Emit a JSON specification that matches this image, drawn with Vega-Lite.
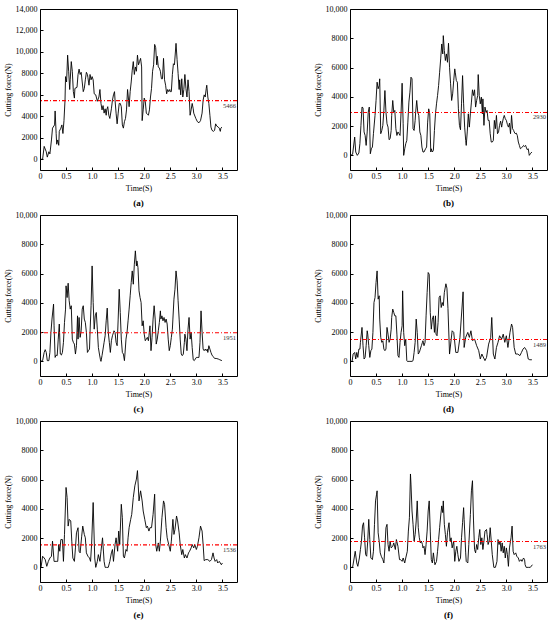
{
"$schema": "https://vega.github.io/schema/vega-lite/v6.json",
"padding": {"left": 3, "top": 4, "right": 0, "bottom": 0},
"background": "white",
"columns": 2,
"spacing": {"row": 1, "column": 74},
"config": {
 "font": "Liberation Serif",
 "view": {"stroke": "#000", "strokeWidth": 1},
 "axis": {"domain": false, "grid": false, "ticks": true, "tickColor": "#000", "tickSize": -3, "labelOverlap": false, "labelFlush": false, "labelFontSize": 8, "labelColor": "#000000", "titleFontSize": 8, "titleFontWeight": "normal", "titleColor": "#000000", "labelFont": "Liberation Serif", "titleFont": "Liberation Serif"},
 "axisX": {"titlePadding": 4, "labelPadding": 5},
 "axisY": {"titlePadding": 3, "labelPadding": 6},
 "title": {"orient": "bottom", "fontSize": 9, "fontWeight": "bold", "font": "Liberation Serif", "offset": 7, "color": "#000"},
 "line": {"color": "#000", "strokeWidth": 0.9}
},
"datasets": {
"means": [{"p":"a","m":5466},{"p":"b","m":2930},{"p":"c","m":1951},{"p":"d","m":1489},{"p":"e","m":1536},{"p":"f","m":1763}],
"a": [{"t":0.01,"f":0},{"t":0.05,"f":0},{"t":0.08,"f":1200},{"t":0.12,"f":700},{"t":0.14,"f":200},{"t":0.17,"f":700},{"t":0.19,"f":500},{"t":0.22,"f":1800},{"t":0.24,"f":2900},{"t":0.28,"f":3200},{"t":0.29,"f":4500},{"t":0.31,"f":2400},{"t":0.32,"f":1400},{"t":0.34,"f":1800},{"t":0.36,"f":1300},{"t":0.37,"f":2600},{"t":0.40,"f":2900},{"t":0.42,"f":3200},{"t":0.44,"f":2400},{"t":0.46,"f":3600},{"t":0.48,"f":5500},{"t":0.49,"f":7700},{"t":0.51,"f":7200},{"t":0.53,"f":9700},{"t":0.55,"f":8200},{"t":0.57,"f":6500},{"t":0.58,"f":7400},{"t":0.60,"f":9100},{"t":0.62,"f":8200},{"t":0.64,"f":6300},{"t":0.66,"f":5700},{"t":0.67,"f":6600},{"t":0.71,"f":6700},{"t":0.73,"f":7900},{"t":0.75,"f":8400},{"t":0.77,"f":7900},{"t":0.79,"f":8100},{"t":0.81,"f":7200},{"t":0.83,"f":6300},{"t":0.85,"f":6600},{"t":0.87,"f":7400},{"t":0.89,"f":8100},{"t":0.91,"f":7900},{"t":0.92,"f":7600},{"t":0.94,"f":6900},{"t":0.96,"f":7900},{"t":0.98,"f":7400},{"t":1.00,"f":7700},{"t":1.02,"f":7400},{"t":1.04,"f":6100},{"t":1.07,"f":6000},{"t":1.09,"f":5600},{"t":1.10,"f":5400},{"t":1.13,"f":5800},{"t":1.15,"f":6500},{"t":1.17,"f":5200},{"t":1.19,"f":4600},{"t":1.21,"f":5000},{"t":1.23,"f":4300},{"t":1.25,"f":4700},{"t":1.27,"f":4100},{"t":1.28,"f":4600},{"t":1.30,"f":4900},{"t":1.32,"f":4100},{"t":1.34,"f":3800},{"t":1.37,"f":4700},{"t":1.39,"f":5500},{"t":1.41,"f":6000},{"t":1.43,"f":6300},{"t":1.44,"f":5500},{"t":1.46,"f":4300},{"t":1.48,"f":3300},{"t":1.50,"f":4300},{"t":1.52,"f":5200},{"t":1.54,"f":5200},{"t":1.56,"f":4900},{"t":1.58,"f":3200},{"t":1.60,"f":2900},{"t":1.62,"f":3500},{"t":1.64,"f":3800},{"t":1.66,"f":4600},{"t":1.68,"f":6500},{"t":1.70,"f":5500},{"t":1.71,"f":4900},{"t":1.73,"f":6300},{"t":1.75,"f":7200},{"t":1.77,"f":8300},{"t":1.79,"f":9100},{"t":1.81,"f":7900},{"t":1.83,"f":8600},{"t":1.85,"f":8200},{"t":1.87,"f":9700},{"t":1.89,"f":8800},{"t":1.91,"f":9100},{"t":1.93,"f":9400},{"t":1.95,"f":8600},{"t":1.96,"f":3600},{"t":1.98,"f":4600},{"t":2.00,"f":5700},{"t":2.02,"f":5400},{"t":2.04,"f":4300},{"t":2.06,"f":4200},{"t":2.08,"f":4100},{"t":2.10,"f":4600},{"t":2.12,"f":5800},{"t":2.14,"f":6600},{"t":2.16,"f":8200},{"t":2.18,"f":8800},{"t":2.20,"f":10700},{"t":2.22,"f":10400},{"t":2.24,"f":8800},{"t":2.25,"f":9600},{"t":2.27,"f":8600},{"t":2.29,"f":8500},{"t":2.31,"f":8200},{"t":2.33,"f":7500},{"t":2.35,"f":7500},{"t":2.37,"f":9400},{"t":2.39,"f":7400},{"t":2.41,"f":6900},{"t":2.43,"f":6100},{"t":2.45,"f":6500},{"t":2.47,"f":6300},{"t":2.49,"f":6500},{"t":2.50,"f":6300},{"t":2.52,"f":6300},{"t":2.54,"f":7900},{"t":2.56,"f":8900},{"t":2.58,"f":8800},{"t":2.61,"f":10800},{"t":2.63,"f":9300},{"t":2.65,"f":8000},{"t":2.67,"f":6500},{"t":2.68,"f":7400},{"t":2.70,"f":6000},{"t":2.72,"f":7500},{"t":2.74,"f":5800},{"t":2.76,"f":6500},{"t":2.78,"f":7900},{"t":2.80,"f":6600},{"t":2.82,"f":5800},{"t":2.84,"f":7400},{"t":2.86,"f":6300},{"t":2.88,"f":4100},{"t":2.90,"f":4600},{"t":2.92,"f":5200},{"t":2.94,"f":4700},{"t":2.95,"f":4300},{"t":2.99,"f":3800},{"t":3.02,"f":3500},{"t":3.05,"f":3400},{"t":3.08,"f":3600},{"t":3.11,"f":4300},{"t":3.13,"f":5500},{"t":3.15,"f":6000},{"t":3.17,"f":5800},{"t":3.19,"f":6600},{"t":3.20,"f":6900},{"t":3.22,"f":5800},{"t":3.24,"f":5200},{"t":3.26,"f":4100},{"t":3.28,"f":3000},{"t":3.30,"f":2700},{"t":3.33,"f":2600},{"t":3.35,"f":2700},{"t":3.37,"f":3300},{"t":3.39,"f":3100},{"t":3.42,"f":3000},{"t":3.44,"f":2900},{"t":3.46,"f":2600},{"t":3.47,"f":2900},{"t":3.49,"f":3000}],
"b": [{"t":0.01,"f":0},{"t":0.05,"f":70},{"t":0.09,"f":1250},{"t":0.11,"f":230},{"t":0.14,"f":0},{"t":0.17,"f":160},{"t":0.19,"f":800},{"t":0.21,"f":2050},{"t":0.23,"f":3300},{"t":0.25,"f":3250},{"t":0.27,"f":1600},{"t":0.29,"f":1360},{"t":0.31,"f":680},{"t":0.33,"f":1600},{"t":0.35,"f":2950},{"t":0.37,"f":3300},{"t":0.39,"f":110},{"t":0.41,"f":450},{"t":0.43,"f":570},{"t":0.45,"f":1480},{"t":0.48,"f":2730},{"t":0.50,"f":3750},{"t":0.52,"f":5000},{"t":0.54,"f":4550},{"t":0.56,"f":4770},{"t":0.57,"f":5230},{"t":0.59,"f":1480},{"t":0.61,"f":1700},{"t":0.63,"f":2050},{"t":0.65,"f":3070},{"t":0.67,"f":4430},{"t":0.69,"f":2950},{"t":0.71,"f":2160},{"t":0.73,"f":1930},{"t":0.75,"f":1070},{"t":0.77,"f":1140},{"t":0.79,"f":1700},{"t":0.80,"f":2730},{"t":0.82,"f":3750},{"t":0.84,"f":2950},{"t":0.86,"f":3070},{"t":0.88,"f":1820},{"t":0.90,"f":1360},{"t":0.92,"f":1600},{"t":0.94,"f":1480},{"t":0.96,"f":1360},{"t":0.98,"f":2950},{"t":1.00,"f":4930},{"t":1.02,"f":2160},{"t":1.03,"f":0},{"t":1.05,"f":450},{"t":1.07,"f":800},{"t":1.09,"f":1020},{"t":1.11,"f":2270},{"t":1.13,"f":3640},{"t":1.15,"f":4320},{"t":1.17,"f":5340},{"t":1.19,"f":5230},{"t":1.21,"f":1820},{"t":1.23,"f":1700},{"t":1.25,"f":2390},{"t":1.26,"f":2950},{"t":1.28,"f":3750},{"t":1.30,"f":2950},{"t":1.32,"f":2730},{"t":1.34,"f":1600},{"t":1.36,"f":1360},{"t":1.38,"f":570},{"t":1.40,"f":230},{"t":1.42,"f":230},{"t":1.45,"f":450},{"t":1.47,"f":570},{"t":1.49,"f":2270},{"t":1.51,"f":3180},{"t":1.53,"f":2840},{"t":1.55,"f":230},{"t":1.56,"f":450},{"t":1.58,"f":230},{"t":1.60,"f":340},{"t":1.62,"f":1700},{"t":1.64,"f":2840},{"t":1.66,"f":3520},{"t":1.68,"f":4090},{"t":1.70,"f":4770},{"t":1.72,"f":5680},{"t":1.74,"f":6590},{"t":1.76,"f":7610},{"t":1.78,"f":6930},{"t":1.79,"f":8180},{"t":1.81,"f":7160},{"t":1.83,"f":6480},{"t":1.85,"f":6930},{"t":1.87,"f":6360},{"t":1.89,"f":7660},{"t":1.91,"f":6020},{"t":1.93,"f":4890},{"t":1.95,"f":3750},{"t":1.97,"f":4200},{"t":1.99,"f":5110},{"t":2.01,"f":5910},{"t":2.02,"f":5680},{"t":2.04,"f":5110},{"t":2.06,"f":5000},{"t":2.08,"f":3180},{"t":2.10,"f":2050},{"t":2.12,"f":1750},{"t":2.14,"f":3520},{"t":2.16,"f":5450},{"t":2.18,"f":3520},{"t":2.20,"f":1930},{"t":2.22,"f":1020},{"t":2.23,"f":680},{"t":2.25,"f":1600},{"t":2.27,"f":2840},{"t":2.29,"f":1930},{"t":2.31,"f":2840},{"t":2.33,"f":3640},{"t":2.35,"f":4480},{"t":2.37,"f":4090},{"t":2.39,"f":4480},{"t":2.41,"f":3300},{"t":2.43,"f":3750},{"t":2.45,"f":4090},{"t":2.46,"f":5520},{"t":2.48,"f":4090},{"t":2.50,"f":3520},{"t":2.52,"f":3980},{"t":2.54,"f":2840},{"t":2.55,"f":3860},{"t":2.57,"f":2050},{"t":2.59,"f":3300},{"t":2.61,"f":2950},{"t":2.63,"f":3070},{"t":2.65,"f":2390},{"t":2.67,"f":2390},{"t":2.69,"f":1480},{"t":2.71,"f":910},{"t":2.73,"f":910},{"t":2.75,"f":1020},{"t":2.77,"f":2390},{"t":2.79,"f":1820},{"t":2.81,"f":2730},{"t":2.83,"f":1480},{"t":2.85,"f":1600},{"t":2.87,"f":2050},{"t":2.89,"f":2340},{"t":2.91,"f":1930},{"t":2.92,"f":2160},{"t":2.94,"f":2500},{"t":2.96,"f":2730},{"t":2.98,"f":2500},{"t":3.00,"f":2390},{"t":3.02,"f":2110},{"t":3.04,"f":1930},{"t":3.06,"f":2200},{"t":3.08,"f":1480},{"t":3.10,"f":2730},{"t":3.12,"f":1820},{"t":3.14,"f":1700},{"t":3.15,"f":1600},{"t":3.17,"f":1480},{"t":3.19,"f":1520},{"t":3.21,"f":1360},{"t":3.23,"f":910},{"t":3.25,"f":680},{"t":3.27,"f":450},{"t":3.29,"f":520},{"t":3.31,"f":570},{"t":3.33,"f":680},{"t":3.35,"f":610},{"t":3.37,"f":680},{"t":3.38,"f":570},{"t":3.40,"f":390},{"t":3.42,"f":450},{"t":3.44,"f":0},{"t":3.46,"f":110},{"t":3.49,"f":230}],
"c": [{"t":0.01,"f":0},{"t":0.05,"f":50},{"t":0.08,"f":610},{"t":0.10,"f":800},{"t":0.12,"f":610},{"t":0.14,"f":50},{"t":0.17,"f":50},{"t":0.19,"f":610},{"t":0.21,"f":1980},{"t":0.23,"f":2890},{"t":0.26,"f":3910},{"t":0.27,"f":2430},{"t":0.29,"f":270},{"t":0.31,"f":430},{"t":0.33,"f":390},{"t":0.35,"f":1520},{"t":0.37,"f":2550},{"t":0.39,"f":500},{"t":0.41,"f":430},{"t":0.43,"f":610},{"t":0.45,"f":1300},{"t":0.47,"f":2660},{"t":0.49,"f":3570},{"t":0.50,"f":5160},{"t":0.52,"f":4360},{"t":0.54,"f":5340},{"t":0.56,"f":4140},{"t":0.58,"f":3570},{"t":0.60,"f":3800},{"t":0.62,"f":1520},{"t":0.64,"f":1300},{"t":0.66,"f":1180},{"t":0.68,"f":500},{"t":0.70,"f":1070},{"t":0.72,"f":3110},{"t":0.73,"f":1520},{"t":0.75,"f":3000},{"t":0.77,"f":1640},{"t":0.79,"f":2090},{"t":0.81,"f":3570},{"t":0.83,"f":3800},{"t":0.85,"f":2890},{"t":0.87,"f":2660},{"t":0.89,"f":1980},{"t":0.91,"f":610},{"t":0.93,"f":730},{"t":0.95,"f":840},{"t":0.96,"f":1980},{"t":0.98,"f":3800},{"t":1.00,"f":6520},{"t":1.02,"f":4020},{"t":1.04,"f":2200},{"t":1.06,"f":3110},{"t":1.08,"f":3340},{"t":1.10,"f":2200},{"t":1.12,"f":950},{"t":1.14,"f":500},{"t":1.16,"f":110},{"t":1.17,"f":0},{"t":1.19,"f":390},{"t":1.21,"f":840},{"t":1.23,"f":1300},{"t":1.25,"f":1750},{"t":1.27,"f":2770},{"t":1.29,"f":3640},{"t":1.31,"f":1980},{"t":1.33,"f":1300},{"t":1.35,"f":610},{"t":1.37,"f":1410},{"t":1.39,"f":1750},{"t":1.40,"f":1860},{"t":1.42,"f":2090},{"t":1.44,"f":1980},{"t":1.46,"f":1300},{"t":1.48,"f":1070},{"t":1.50,"f":2890},{"t":1.52,"f":4930},{"t":1.54,"f":3340},{"t":1.56,"f":1520},{"t":1.58,"f":610},{"t":1.60,"f":500},{"t":1.62,"f":50},{"t":1.63,"f":500},{"t":1.65,"f":1520},{"t":1.67,"f":1980},{"t":1.69,"f":2770},{"t":1.71,"f":3570},{"t":1.73,"f":4480},{"t":1.75,"f":5390},{"t":1.77,"f":6180},{"t":1.79,"f":5270},{"t":1.81,"f":6640},{"t":1.83,"f":7550},{"t":1.85,"f":6520},{"t":1.86,"f":6860},{"t":1.88,"f":6410},{"t":1.90,"f":4820},{"t":1.92,"f":4360},{"t":1.94,"f":4020},{"t":1.96,"f":2430},{"t":1.98,"f":2770},{"t":2.00,"f":1860},{"t":2.02,"f":1410},{"t":2.04,"f":1520},{"t":2.06,"f":1640},{"t":2.08,"f":1410},{"t":2.09,"f":1750},{"t":2.11,"f":2430},{"t":2.13,"f":730},{"t":2.15,"f":1640},{"t":2.17,"f":2890},{"t":2.19,"f":3800},{"t":2.21,"f":2890},{"t":2.23,"f":1180},{"t":2.25,"f":1520},{"t":2.27,"f":2090},{"t":2.29,"f":2660},{"t":2.31,"f":3450},{"t":2.32,"f":2890},{"t":2.34,"f":3110},{"t":2.36,"f":2770},{"t":2.38,"f":3000},{"t":2.40,"f":2660},{"t":2.42,"f":2890},{"t":2.44,"f":2550},{"t":2.46,"f":1520},{"t":2.48,"f":730},{"t":2.50,"f":1070},{"t":2.52,"f":1640},{"t":2.54,"f":2200},{"t":2.55,"f":2890},{"t":2.57,"f":4250},{"t":2.59,"f":4930},{"t":2.61,"f":6180},{"t":2.63,"f":5500},{"t":2.65,"f":4140},{"t":2.67,"f":2890},{"t":2.69,"f":1520},{"t":2.71,"f":500},{"t":2.73,"f":390},{"t":2.75,"f":500},{"t":2.77,"f":1300},{"t":2.78,"f":1860},{"t":2.80,"f":1520},{"t":2.82,"f":730},{"t":2.84,"f":2200},{"t":2.86,"f":3000},{"t":2.88,"f":1520},{"t":2.90,"f":1980},{"t":2.92,"f":950},{"t":2.94,"f":110},{"t":2.96,"f":50},{"t":2.98,"f":160},{"t":3.00,"f":270},{"t":3.03,"f":270},{"t":3.05,"f":270},{"t":3.07,"f":1300},{"t":3.09,"f":3450},{"t":3.11,"f":1980},{"t":3.13,"f":840},{"t":3.15,"f":730},{"t":3.17,"f":840},{"t":3.19,"f":730},{"t":3.21,"f":840},{"t":3.22,"f":610},{"t":3.24,"f":1070},{"t":3.26,"f":840},{"t":3.28,"f":610},{"t":3.30,"f":430},{"t":3.32,"f":340},{"t":3.35,"f":200},{"t":3.38,"f":200},{"t":3.42,"f":160},{"t":3.45,"f":110},{"t":3.49,"f":50}],
"d": [{"t":0.01,"f":0},{"t":0.04,"f":0},{"t":0.06,"f":500},{"t":0.09,"f":610},{"t":0.11,"f":160},{"t":0.13,"f":610},{"t":0.15,"f":270},{"t":0.17,"f":840},{"t":0.19,"f":840},{"t":0.20,"f":1300},{"t":0.23,"f":2320},{"t":0.25,"f":1070},{"t":0.27,"f":160},{"t":0.29,"f":270},{"t":0.31,"f":1070},{"t":0.33,"f":2090},{"t":0.34,"f":1860},{"t":0.36,"f":1070},{"t":0.38,"f":270},{"t":0.40,"f":730},{"t":0.42,"f":840},{"t":0.44,"f":1980},{"t":0.46,"f":4020},{"t":0.48,"f":4360},{"t":0.50,"f":5390},{"t":0.52,"f":6180},{"t":0.54,"f":4250},{"t":0.56,"f":4480},{"t":0.57,"f":2890},{"t":0.59,"f":1640},{"t":0.61,"f":1300},{"t":0.63,"f":1410},{"t":0.65,"f":840},{"t":0.67,"f":730},{"t":0.69,"f":840},{"t":0.71,"f":2320},{"t":0.73,"f":1860},{"t":0.75,"f":1300},{"t":0.77,"f":1520},{"t":0.79,"f":2200},{"t":0.80,"f":3000},{"t":0.82,"f":3570},{"t":0.84,"f":3340},{"t":0.86,"f":3110},{"t":0.88,"f":3110},{"t":0.90,"f":1860},{"t":0.92,"f":390},{"t":0.94,"f":270},{"t":0.96,"f":1300},{"t":0.98,"f":1980},{"t":1.00,"f":2430},{"t":1.01,"f":4820},{"t":1.03,"f":1980},{"t":1.05,"f":1070},{"t":1.07,"f":1520},{"t":1.09,"f":50},{"t":1.10,"f":0},{"t":1.15,"f":0},{"t":1.19,"f":0},{"t":1.21,"f":50},{"t":1.23,"f":610},{"t":1.25,"f":1300},{"t":1.27,"f":2890},{"t":1.29,"f":1980},{"t":1.31,"f":500},{"t":1.33,"f":610},{"t":1.35,"f":840},{"t":1.37,"f":1070},{"t":1.39,"f":1300},{"t":1.40,"f":1410},{"t":1.42,"f":1070},{"t":1.44,"f":1300},{"t":1.46,"f":3110},{"t":1.48,"f":4700},{"t":1.50,"f":6070},{"t":1.52,"f":5950},{"t":1.54,"f":3340},{"t":1.56,"f":2200},{"t":1.58,"f":2890},{"t":1.60,"f":3110},{"t":1.62,"f":1980},{"t":1.64,"f":3110},{"t":1.65,"f":1860},{"t":1.67,"f":1750},{"t":1.69,"f":2660},{"t":1.71,"f":4360},{"t":1.73,"f":4480},{"t":1.75,"f":3680},{"t":1.77,"f":4020},{"t":1.79,"f":3800},{"t":1.81,"f":4700},{"t":1.84,"f":5300},{"t":1.86,"f":5000},{"t":1.88,"f":3600},{"t":1.91,"f":500},{"t":1.96,"f":2090},{"t":1.99,"f":1980},{"t":2.03,"f":610},{"t":2.07,"f":610},{"t":2.11,"f":1640},{"t":2.17,"f":4750},{"t":2.19,"f":950},{"t":2.22,"f":1640},{"t":2.26,"f":1980},{"t":2.29,"f":1640},{"t":2.32,"f":2090},{"t":2.35,"f":1420},{"t":2.39,"f":1520},{"t":2.43,"f":1070},{"t":2.47,"f":730},{"t":2.50,"f":160},{"t":2.53,"f":500},{"t":2.59,"f":50},{"t":2.62,"f":270},{"t":2.66,"f":1180},{"t":2.70,"f":1640},{"t":2.72,"f":3000},{"t":2.75,"f":500},{"t":2.78,"f":160},{"t":2.81,"f":950},{"t":2.84,"f":1300},{"t":2.87,"f":1750},{"t":2.91,"f":1520},{"t":2.94,"f":1860},{"t":2.97,"f":1300},{"t":3.00,"f":1750},{"t":3.03,"f":950},{"t":3.07,"f":1980},{"t":3.10,"f":2550},{"t":3.12,"f":2320},{"t":3.15,"f":950},{"t":3.18,"f":500},{"t":3.22,"f":500},{"t":3.26,"f":390},{"t":3.29,"f":610},{"t":3.32,"f":840},{"t":3.35,"f":950},{"t":3.39,"f":730},{"t":3.42,"f":160},{"t":3.45,"f":110},{"t":3.49,"f":110}],
"e": [{"t":0.02,"f":0},{"t":0.05,"f":760},{"t":0.08,"f":640},{"t":0.10,"f":530},{"t":0.13,"f":70},{"t":0.16,"f":410},{"t":0.19,"f":640},{"t":0.22,"f":760},{"t":0.24,"f":1790},{"t":0.27,"f":410},{"t":0.31,"f":410},{"t":0.34,"f":410},{"t":0.36,"f":1560},{"t":0.38,"f":1100},{"t":0.40,"f":1900},{"t":0.43,"f":1900},{"t":0.45,"f":410},{"t":0.47,"f":2250},{"t":0.50,"f":5460},{"t":0.52,"f":4770},{"t":0.54,"f":2820},{"t":0.56,"f":3280},{"t":0.59,"f":3170},{"t":0.61,"f":1790},{"t":0.63,"f":640},{"t":0.66,"f":410},{"t":0.68,"f":1330},{"t":0.70,"f":2360},{"t":0.73,"f":2710},{"t":0.75,"f":1100},{"t":0.77,"f":990},{"t":0.80,"f":2130},{"t":0.82,"f":2820},{"t":0.85,"f":2250},{"t":0.87,"f":2020},{"t":0.89,"f":990},{"t":0.92,"f":760},{"t":0.95,"f":640},{"t":0.97,"f":410},{"t":0.99,"f":1560},{"t":1.02,"f":4430},{"t":1.05,"f":640},{"t":1.07,"f":0},{"t":1.10,"f":410},{"t":1.12,"f":870},{"t":1.15,"f":410},{"t":1.17,"f":1100},{"t":1.20,"f":2020},{"t":1.23,"f":410},{"t":1.25,"f":0},{"t":1.28,"f":0},{"t":1.31,"f":0},{"t":1.34,"f":410},{"t":1.37,"f":990},{"t":1.39,"f":1220},{"t":1.41,"f":410},{"t":1.44,"f":1560},{"t":1.46,"f":2020},{"t":1.49,"f":1100},{"t":1.51,"f":2480},{"t":1.53,"f":1560},{"t":1.56,"f":4310},{"t":1.58,"f":3390},{"t":1.60,"f":760},{"t":1.62,"f":640},{"t":1.65,"f":1220},{"t":1.67,"f":1100},{"t":1.69,"f":2020},{"t":1.71,"f":2710},{"t":1.74,"f":3280},{"t":1.76,"f":3620},{"t":1.79,"f":4770},{"t":1.82,"f":5570},{"t":1.85,"f":6030},{"t":1.87,"f":6610},{"t":1.90,"f":4540},{"t":1.93,"f":5230},{"t":1.96,"f":4540},{"t":1.98,"f":3850},{"t":2.01,"f":3280},{"t":2.04,"f":2710},{"t":2.06,"f":2820},{"t":2.09,"f":2480},{"t":2.11,"f":2710},{"t":2.14,"f":2710},{"t":2.17,"f":3620},{"t":2.20,"f":5000},{"t":2.22,"f":1560},{"t":2.24,"f":1100},{"t":2.27,"f":1670},{"t":2.29,"f":1100},{"t":2.31,"f":1790},{"t":2.34,"f":3390},{"t":2.37,"f":4540},{"t":2.39,"f":4310},{"t":2.42,"f":2710},{"t":2.44,"f":2020},{"t":2.47,"f":1560},{"t":2.50,"f":1100},{"t":2.52,"f":1790},{"t":2.55,"f":3280},{"t":2.57,"f":2250},{"t":2.59,"f":2590},{"t":2.62,"f":3510},{"t":2.64,"f":3170},{"t":2.67,"f":2360},{"t":2.69,"f":1560},{"t":2.72,"f":870},{"t":2.74,"f":1220},{"t":2.77,"f":640},{"t":2.79,"f":870},{"t":2.82,"f":640},{"t":2.85,"f":990},{"t":2.87,"f":1100},{"t":2.90,"f":1330},{"t":2.92,"f":1560},{"t":2.95,"f":1330},{"t":2.97,"f":1560},{"t":3.00,"f":1220},{"t":3.02,"f":1440},{"t":3.05,"f":2020},{"t":3.08,"f":2820},{"t":3.11,"f":2480},{"t":3.13,"f":1560},{"t":3.15,"f":460},{"t":3.18,"f":530},{"t":3.22,"f":530},{"t":3.26,"f":410},{"t":3.29,"f":530},{"t":3.32,"f":990},{"t":3.34,"f":640},{"t":3.36,"f":410},{"t":3.39,"f":530},{"t":3.41,"f":300},{"t":3.44,"f":410},{"t":3.48,"f":180},{"t":3.50,"f":300}],
"f": [{"t":0.01,"f":0},{"t":0.05,"f":0},{"t":0.08,"f":640},{"t":0.10,"f":1100},{"t":0.13,"f":300},{"t":0.15,"f":70},{"t":0.18,"f":640},{"t":0.20,"f":1220},{"t":0.22,"f":1790},{"t":0.24,"f":2820},{"t":0.26,"f":3050},{"t":0.28,"f":2020},{"t":0.30,"f":870},{"t":0.32,"f":760},{"t":0.34,"f":1790},{"t":0.36,"f":3280},{"t":0.38,"f":1900},{"t":0.40,"f":640},{"t":0.43,"f":530},{"t":0.45,"f":1100},{"t":0.47,"f":2940},{"t":0.49,"f":4540},{"t":0.51,"f":5000},{"t":0.52,"f":5230},{"t":0.54,"f":2360},{"t":0.56,"f":1790},{"t":0.58,"f":990},{"t":0.60,"f":760},{"t":0.63,"f":530},{"t":0.65,"f":300},{"t":0.67,"f":1330},{"t":0.69,"f":2710},{"t":0.71,"f":2940},{"t":0.73,"f":1560},{"t":0.75,"f":1100},{"t":0.77,"f":1790},{"t":0.79,"f":1330},{"t":0.82,"f":1440},{"t":0.84,"f":1670},{"t":0.87,"f":1220},{"t":0.89,"f":1900},{"t":0.92,"f":1440},{"t":0.95,"f":530},{"t":0.97,"f":530},{"t":1.00,"f":410},{"t":1.02,"f":640},{"t":1.05,"f":300},{"t":1.07,"f":640},{"t":1.10,"f":1100},{"t":1.12,"f":2480},{"t":1.14,"f":3390},{"t":1.16,"f":6380},{"t":1.17,"f":5690},{"t":1.19,"f":3850},{"t":1.21,"f":2940},{"t":1.23,"f":1790},{"t":1.25,"f":2250},{"t":1.27,"f":3170},{"t":1.29,"f":4540},{"t":1.31,"f":2710},{"t":1.33,"f":2020},{"t":1.35,"f":1670},{"t":1.37,"f":1790},{"t":1.39,"f":1560},{"t":1.40,"f":1330},{"t":1.42,"f":1440},{"t":1.44,"f":870},{"t":1.46,"f":1560},{"t":1.48,"f":2480},{"t":1.50,"f":3850},{"t":1.52,"f":4540},{"t":1.54,"f":2480},{"t":1.56,"f":530},{"t":1.58,"f":300},{"t":1.60,"f":990},{"t":1.62,"f":410},{"t":1.63,"f":180},{"t":1.66,"f":410},{"t":1.68,"f":1100},{"t":1.70,"f":1900},{"t":1.72,"f":2710},{"t":1.74,"f":3510},{"t":1.76,"f":4200},{"t":1.78,"f":3740},{"t":1.79,"f":4540},{"t":1.81,"f":2940},{"t":1.83,"f":2250},{"t":1.85,"f":1440},{"t":1.87,"f":2360},{"t":1.90,"f":3050},{"t":1.92,"f":1790},{"t":1.94,"f":2020},{"t":1.96,"f":1330},{"t":1.99,"f":1790},{"t":2.01,"f":410},{"t":2.03,"f":1100},{"t":2.05,"f":1440},{"t":2.07,"f":870},{"t":2.09,"f":410},{"t":2.12,"f":640},{"t":2.14,"f":2020},{"t":2.16,"f":3050},{"t":2.18,"f":4080},{"t":2.19,"f":3280},{"t":2.22,"f":990},{"t":2.23,"f":410},{"t":2.26,"f":300},{"t":2.28,"f":1560},{"t":2.31,"f":3620},{"t":2.33,"f":5230},{"t":2.35,"f":5920},{"t":2.37,"f":3170},{"t":2.39,"f":1220},{"t":2.41,"f":990},{"t":2.43,"f":1560},{"t":2.45,"f":1220},{"t":2.47,"f":2020},{"t":2.49,"f":2590},{"t":2.51,"f":1560},{"t":2.53,"f":2020},{"t":2.55,"f":1220},{"t":2.57,"f":1790},{"t":2.59,"f":2480},{"t":2.62,"f":2590},{"t":2.63,"f":2250},{"t":2.65,"f":1560},{"t":2.67,"f":1790},{"t":2.69,"f":2710},{"t":2.71,"f":1790},{"t":2.73,"f":870},{"t":2.76,"f":0},{"t":2.79,"f":0},{"t":2.82,"f":410},{"t":2.84,"f":1900},{"t":2.86,"f":1560},{"t":2.88,"f":1790},{"t":2.90,"f":1100},{"t":2.92,"f":1670},{"t":2.94,"f":990},{"t":2.96,"f":1440},{"t":2.98,"f":640},{"t":3.00,"f":1330},{"t":3.02,"f":870},{"t":3.04,"f":70},{"t":3.06,"f":1330},{"t":3.09,"f":2020},{"t":3.11,"f":2820},{"t":3.13,"f":1100},{"t":3.15,"f":870},{"t":3.18,"f":990},{"t":3.20,"f":760},{"t":3.23,"f":640},{"t":3.25,"f":410},{"t":3.28,"f":530},{"t":3.30,"f":410},{"t":3.33,"f":640},{"t":3.35,"f":530},{"t":3.36,"f":180},{"t":3.38,"f":0},{"t":3.42,"f":0},{"t":3.46,"f":0},{"t":3.50,"f":180}]
},
"concat": [
{"width":197,"height":161,"title":{"text":"(a)"},"layer":[
 {"data":{"name":"a"},"mark":{"type":"line"},"encoding":{"x":{"field":"t","type":"quantitative","scale":{"domain":[0,3.78],"nice":false},"axis":{"title":"Time(S)","labelOverlap":false,"tickCount":8,"labelExpr":"datum.value == 0 ? '0' : format(datum.value, '.1f')"}},"y":{"field":"f","type":"quantitative","scale":{"domain":[-1000,14000],"nice":false},"axis":{"title":"Cutting force(N)","labelOverlap":false,"tickCount":8,"labelExpr":"datum.value >= 10000 ? format(datum.value, ',') : format(datum.value, 'd')"}}}},
 {"data":{"name":"means"},"transform":[{"filter":"datum.p == 'a'"}],"mark":{"type":"rule","color":"#ff0000","strokeWidth":1.1,"strokeDash":[4,2,1,2]},"encoding":{"y":{"field":"m","type":"quantitative"}}},
 {"data":{"name":"means"},"transform":[{"filter":"datum.p == 'a'"}],"mark":{"type":"text","align":"right","baseline":"top","dy":2,"dx":-1,"fontSize":6.5,"color":"#333"},"encoding":{"x":{"datum":3.78},"y":{"field":"m","type":"quantitative"},"text":{"field":"m","type":"quantitative","format":"d"}}}
]},
{"width":197,"height":161,"title":{"text":"(b)"},"layer":[
 {"data":{"name":"b"},"mark":{"type":"line"},"encoding":{"x":{"field":"t","type":"quantitative","scale":{"domain":[0,3.78],"nice":false},"axis":{"title":"Time(S)","labelOverlap":false,"tickCount":8,"labelExpr":"datum.value == 0 ? '0' : format(datum.value, '.1f')"}},"y":{"field":"f","type":"quantitative","scale":{"domain":[-1000,10000],"nice":false},"axis":{"title":"Cutting force(N)","labelOverlap":false,"tickCount":6,"labelExpr":"datum.value >= 10000 ? format(datum.value, ',') : format(datum.value, 'd')"}}}},
 {"data":{"name":"means"},"transform":[{"filter":"datum.p == 'b'"}],"mark":{"type":"rule","color":"#ff0000","strokeWidth":1.1,"strokeDash":[4,2,1,2]},"encoding":{"y":{"field":"m","type":"quantitative"}}},
 {"data":{"name":"means"},"transform":[{"filter":"datum.p == 'b'"}],"mark":{"type":"text","align":"right","baseline":"top","dy":2,"dx":-1,"fontSize":6.5,"color":"#333"},"encoding":{"x":{"datum":3.78},"y":{"field":"m","type":"quantitative"},"text":{"field":"m","type":"quantitative","format":"d"}}}
]},
{"width":197,"height":161,"title":{"text":"(c)"},"layer":[
 {"data":{"name":"c"},"mark":{"type":"line"},"encoding":{"x":{"field":"t","type":"quantitative","scale":{"domain":[0,3.78],"nice":false},"axis":{"title":"Time(S)","labelOverlap":false,"tickCount":8,"labelExpr":"datum.value == 0 ? '0' : format(datum.value, '.1f')"}},"y":{"field":"f","type":"quantitative","scale":{"domain":[-1000,10000],"nice":false},"axis":{"title":"Cutting force(N)","labelOverlap":false,"tickCount":6,"labelExpr":"datum.value >= 10000 ? format(datum.value, ',') : format(datum.value, 'd')"}}}},
 {"data":{"name":"means"},"transform":[{"filter":"datum.p == 'c'"}],"mark":{"type":"rule","color":"#ff0000","strokeWidth":1.1,"strokeDash":[4,2,1,2]},"encoding":{"y":{"field":"m","type":"quantitative"}}},
 {"data":{"name":"means"},"transform":[{"filter":"datum.p == 'c'"}],"mark":{"type":"text","align":"right","baseline":"top","dy":2,"dx":-1,"fontSize":6.5,"color":"#333"},"encoding":{"x":{"datum":3.78},"y":{"field":"m","type":"quantitative"},"text":{"field":"m","type":"quantitative","format":"d"}}}
]},
{"width":197,"height":161,"title":{"text":"(d)"},"layer":[
 {"data":{"name":"d"},"mark":{"type":"line"},"encoding":{"x":{"field":"t","type":"quantitative","scale":{"domain":[0,3.78],"nice":false},"axis":{"title":"Time(S)","labelOverlap":false,"tickCount":8,"labelExpr":"datum.value == 0 ? '0' : format(datum.value, '.1f')"}},"y":{"field":"f","type":"quantitative","scale":{"domain":[-1000,10000],"nice":false},"axis":{"title":"Cutting force(N)","labelOverlap":false,"tickCount":6,"labelExpr":"datum.value >= 10000 ? format(datum.value, ',') : format(datum.value, 'd')"}}}},
 {"data":{"name":"means"},"transform":[{"filter":"datum.p == 'd'"}],"mark":{"type":"rule","color":"#ff0000","strokeWidth":1.1,"strokeDash":[4,2,1,2]},"encoding":{"y":{"field":"m","type":"quantitative"}}},
 {"data":{"name":"means"},"transform":[{"filter":"datum.p == 'd'"}],"mark":{"type":"text","align":"right","baseline":"top","dy":2,"dx":-1,"fontSize":6.5,"color":"#333"},"encoding":{"x":{"datum":3.78},"y":{"field":"m","type":"quantitative"},"text":{"field":"m","type":"quantitative","format":"d"}}}
]},
{"width":197,"height":161,"title":{"text":"(e)"},"layer":[
 {"data":{"name":"e"},"mark":{"type":"line"},"encoding":{"x":{"field":"t","type":"quantitative","scale":{"domain":[0,3.78],"nice":false},"axis":{"title":"Time(S)","labelOverlap":false,"tickCount":8,"labelExpr":"datum.value == 0 ? '0' : format(datum.value, '.1f')"}},"y":{"field":"f","type":"quantitative","scale":{"domain":[-1000,10000],"nice":false},"axis":{"title":"Cutting force(N)","labelOverlap":false,"tickCount":6,"labelExpr":"datum.value >= 10000 ? format(datum.value, ',') : format(datum.value, 'd')"}}}},
 {"data":{"name":"means"},"transform":[{"filter":"datum.p == 'e'"}],"mark":{"type":"rule","color":"#ff0000","strokeWidth":1.1,"strokeDash":[4,2,1,2]},"encoding":{"y":{"field":"m","type":"quantitative"}}},
 {"data":{"name":"means"},"transform":[{"filter":"datum.p == 'e'"}],"mark":{"type":"text","align":"right","baseline":"top","dy":2,"dx":-1,"fontSize":6.5,"color":"#333"},"encoding":{"x":{"datum":3.78},"y":{"field":"m","type":"quantitative"},"text":{"field":"m","type":"quantitative","format":"d"}}}
]},
{"width":197,"height":161,"title":{"text":"(f)"},"layer":[
 {"data":{"name":"f"},"mark":{"type":"line"},"encoding":{"x":{"field":"t","type":"quantitative","scale":{"domain":[0,3.78],"nice":false},"axis":{"title":"Time(S)","labelOverlap":false,"tickCount":8,"labelExpr":"datum.value == 0 ? '0' : format(datum.value, '.1f')"}},"y":{"field":"f","type":"quantitative","scale":{"domain":[-1000,10000],"nice":false},"axis":{"title":"Cutting force(N)","labelOverlap":false,"tickCount":6,"labelExpr":"datum.value >= 10000 ? format(datum.value, ',') : format(datum.value, 'd')"}}}},
 {"data":{"name":"means"},"transform":[{"filter":"datum.p == 'f'"}],"mark":{"type":"rule","color":"#ff0000","strokeWidth":1.1,"strokeDash":[4,2,1,2]},"encoding":{"y":{"field":"m","type":"quantitative"}}},
 {"data":{"name":"means"},"transform":[{"filter":"datum.p == 'f'"}],"mark":{"type":"text","align":"right","baseline":"top","dy":2,"dx":-1,"fontSize":6.5,"color":"#333"},"encoding":{"x":{"datum":3.78},"y":{"field":"m","type":"quantitative"},"text":{"field":"m","type":"quantitative","format":"d"}}}
]}
]
}
